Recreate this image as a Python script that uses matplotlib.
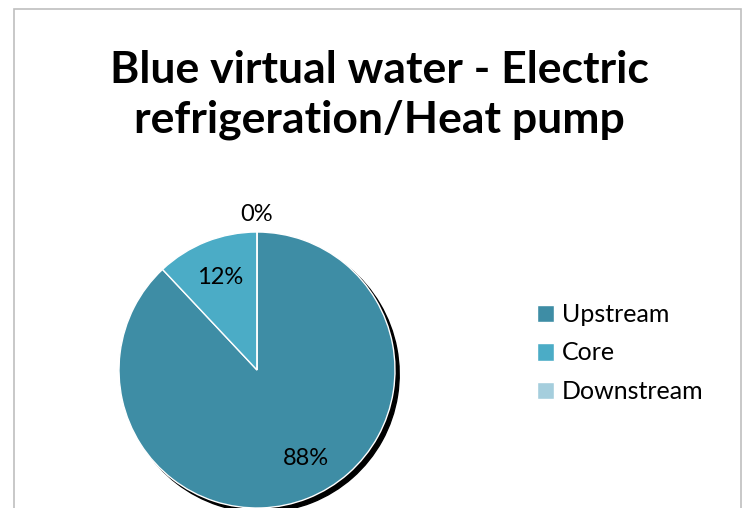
"""Blue virtual water pie - Electric refrigeration/Heat pump."""

import matplotlib

matplotlib.use("Agg")
import matplotlib.pyplot as plt
from matplotlib.patches import Rectangle

plt.rcParams["font.family"] = ["Lato", "DejaVu Sans"]

stages = ["Upstream", "Core", "Downstream"]
shares = [88, 12, 0]
colors = ["#3E8DA5", "#4BACC6", "#A5CEDD"]
title = "Blue virtual water - Electric\nrefrigeration/Heat pump"

W, H, DPI = 747, 508, 100
fig = plt.figure(figsize=(W / DPI, H / DPI), dpi=DPI)

# chart area frame (cut off at the bottom, like the screenshot)
fig.patches.append(
    Rectangle((14 / W, -0.1), 727 / W, (H - 9) / H + 0.1, transform=fig.transFigure,
              fill=False, edgecolor="#BFBFBF", linewidth=1.2)
)

# pie axes: centre at (257, 370) px from top-left, radius 138 px
cx, cy, r = 257, H - 370, 138
half = 150
ax = fig.add_axes([(cx - half) / W, (cy - half) / H, 2 * half / W, 2 * half / H])
wedges, texts, autotexts = ax.pie(
    shares,
    colors=colors,
    startangle=90,
    counterclock=False,
    autopct="%1.0f%%",
    pctdistance=0.72,
    shadow={"ox": 0.022, "oy": -0.022, "shade": 1.0, "alpha": 1.0},
    wedgeprops={"edgecolor": "white", "linewidth": 1.0},
    textprops={"fontsize": 17, "color": "black"},
)
for pct, txt in zip(shares, autotexts):
    x, y = txt.get_position()
    if pct == 0:
        # zero-share label sits just outside the rim
        txt.set_position((x / 0.72 * 1.13, y / 0.72 * 1.13))
    elif pct > 50:
        txt.set_position((x + 0.09, y + 0.03))
ax.set_xlim(-half / r, half / r)
ax.set_ylim(-half / r, half / r)
ax.set_aspect("equal")
ax.axis("off")

fig.text(379 / W, 1 - 95 / H, title, ha="center", va="center",
         fontsize=32, fontweight="bold", linespacing=1.3)

fig.legend(
    wedges, stages,
    loc="center left", bbox_to_anchor=(514 / W, 1 - 353 / H),
    frameon=False, fontsize=18,
    handlelength=0.7, handleheight=0.7, handletextpad=0.3,
    labelspacing=0.62,
)

fig.savefig("out.png", dpi=DPI)
